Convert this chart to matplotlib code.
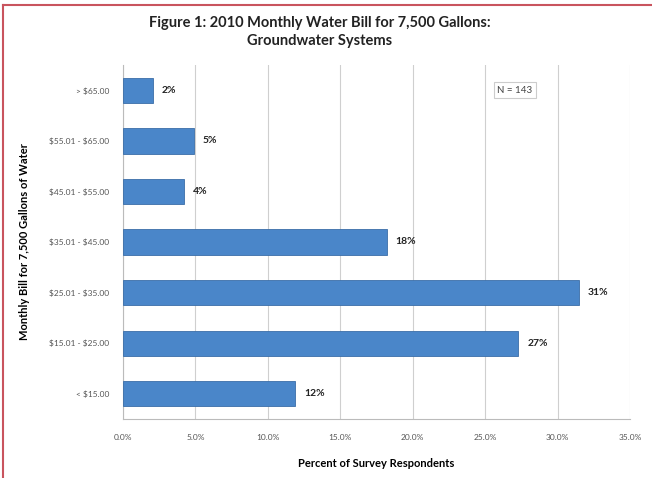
import matplotlib.pyplot as plt
from matplotlib.lines import Line2D
import numpy as np

categories = ["< \\$15.00", "\\$15.01 - \\$25.00", "\\$25.01 - \\$35.00", "\\$35.01 - \\$45.00",
              "\\$45.01 - \\$55.00", "\\$55.01 - \\$65.00", "> \\$65.00"]
percents = [11.9, 27.3, 31.5, 18.2, 4.2, 4.9, 2.1]
labels = ["12%", "27%", "31%", "18%", "4%", "5%", "2%"]
xticks = [0, 5, 10, 15, 20, 25, 30, 35]
n_note = "N = 143"

plt.rcParams['font.family'] = ['Lato', 'DejaVu Sans']

fig = plt.figure(figsize=(6.52, 4.78), dpi=100)
W, H = 652, 478
ax = fig.add_axes([123 / W, 1 - 419 / H, (630 - 123) / W, (419 - 65) / H])

y = np.arange(len(categories))
ax.barh(y, percents, height=0.5, color="#4a86c9", edgecolor="#3b6ea8", linewidth=0.6, zorder=3)
for yi, v, lab in zip(y, percents, labels):
    ax.text(v + 0.6, yi, lab, va="center", ha="left", fontsize=7.5, fontweight="bold", color="#222222")

ax.set_xlim(0, 35)
ax.set_ylim(-0.5, 6.5)
ax.set_xticks(xticks)
ax.set_xticklabels(["%.1f%%" % t for t in xticks], fontsize=6, color="#555555")
ax.set_yticks(y)
ax.set_yticklabels(categories, fontsize=6, color="#555555")
ax.tick_params(axis="x", length=0, pad=11)
ax.tick_params(axis="y", length=0, pad=10)
ax.grid(axis="x", color="#cfcfcf", linewidth=0.8, zorder=0)
for s in ["top", "right"]:
    ax.spines[s].set_visible(False)
ax.spines["left"].set_color("#bbbbbb")
ax.spines["bottom"].set_color("#bbbbbb")

ax.set_xlabel("Percent of Survey Respondents", fontsize=8, fontweight="bold", labelpad=12)
ax.set_ylabel("Monthly Bill for 7,500 Gallons of Water", fontsize=8, fontweight="bold", labelpad=14)

ax.text((515 - 123) / (630 - 123) * 35, 6.0, n_note, ha="center", va="center",
        fontsize=7, color="#444444",
        bbox=dict(boxstyle="square,pad=0.35", facecolor="white", edgecolor="#cccccc", linewidth=0.8))

fig.text(320 / W, 1 - 32 / H, "Figure 1: 2010 Monthly Water Bill for 7,500 Gallons:\nGroundwater Systems",
         ha="center", va="center", fontsize=10.5, fontweight="bold", color="#222222", linespacing=1.3)

fig.add_artist(Line2D([3 / W, 1], [1 - 5 / H, 1 - 5 / H], color="#c9545e", linewidth=1.5))
fig.add_artist(Line2D([3 / W, 3 / W], [0, 1 - 5 / H], color="#c9545e", linewidth=1.5))

fig.savefig("out.png", dpi=100)
